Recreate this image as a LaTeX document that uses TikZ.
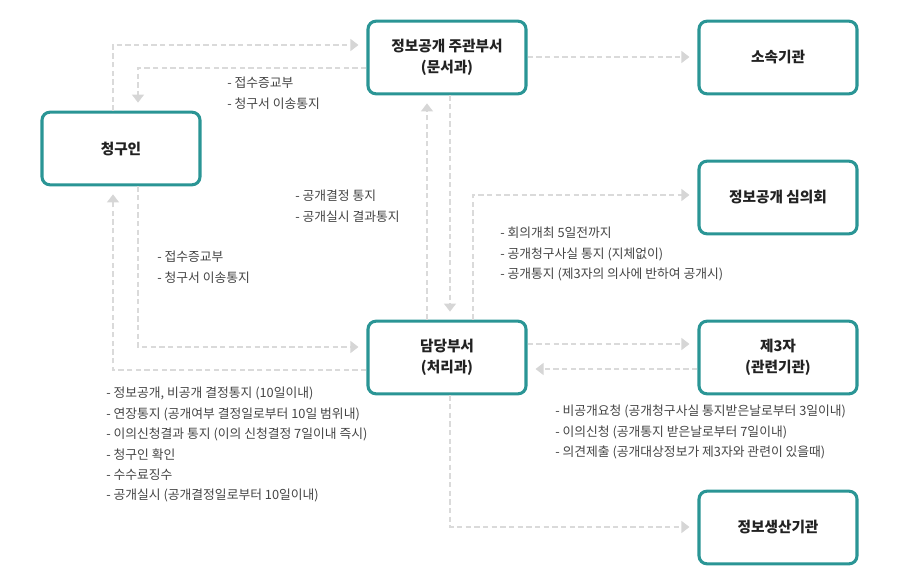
\documentclass[tikz,border=0pt]{standalone}
\usepackage{fontspec}
\setmainfont{Noto Sans CJK KR}
\usetikzlibrary{arrows.meta}
\definecolor{teal1}{HTML}{2A9595}
\definecolor{ln}{HTML}{DADADA}
\definecolor{ah}{HTML}{D6D6D6}
\definecolor{tx}{HTML}{222222}
\definecolor{lt}{HTML}{444444}
\begin{document}
\begin{tikzpicture}[x=0.75pt,y=-0.75pt,
 box/.style={draw=teal1,line width=2.3pt,rounded corners=6pt,minimum width=118.5pt,minimum height=54.5pt,font=\bfseries\fontsize{11}{16}\selectfont,text=tx,align=center,fill=white},
 con/.style={draw=ln,line width=0.8pt,dash pattern=on 4pt off 2.5pt,shorten >=6pt,-{Triangle[length=6pt,width=9pt,fill=ah,color=ah]}},
 lab/.style={anchor=north west,inner sep=0pt,align=left,font=\fontsize{9.6}{15.3}\selectfont,text=lt}]
\useasboundingbox (0,0) rectangle (900,585);
\node[box] (req) at (121,148.5) {청구인};
\node[box] (main) at (447,57.5) {정보공개 주관부서\\(문서과)};
\node[box] (sub) at (778,57.5) {소속기관};
\node[box] (comm) at (778,197.5) {정보공개 심의회};
\node[box] (dept) at (447,357.5) {담당부서\\(처리과)};
\node[box] (third) at (778,357.5) {제3자\\(관련기관)};
\node[box] (prod) at (778,527.5) {정보생산기관};
\draw[con] (req.north -| 113,0) |- (main.west |- 0,45);
\draw[con] (main.west |- 0,68) -| (req.north -| 138,0);
\draw[con] (main.east |- 0,57) -- (sub.west |- 0,57);
\draw[con] (dept.north -| 427,0) -- (main.south -| 427,0);
\draw[con] (main.south -| 450,0) -- (dept.north -| 450,0);
\draw[con] (dept.north -| 473,0) |- (comm.west |- 0,195);
\draw[con] (req.south -| 138,0) |- (dept.west |- 0,347);
\draw[con] (dept.west |- 0,370) -| (req.south -| 113,0);
\draw[con] (dept.east |- 0,344) -- (third.west |- 0,344);
\draw[con] (third.west |- 0,369) -- (dept.east |- 0,369);
\draw[con] (dept.south -| 450,0) |- (prod.west |- 0,527);
\node[lab] (la) at (227,77) {- 접수증교부\\- 청구서 이송통지};
\node[lab] (lb) at (295,190) {- 공개결정 통지\\- 공개실시 결과통지};
\node[lab] (lc) at (157,251) {- 접수증교부\\- 청구서 이송통지};
\node[lab] (ld) at (500,227) {- 회의개최 5일전까지\\- 공개청구사실 통지 (지체없이)\\- 공개통지 (제3자의 의사에 반하여 공개시)};
\node[lab] (le) at (106,387) {- 정보공개, 비공개 결정통지 (10일이내)\\- 연장통지 (공개여부 결정일로부터 10일 범위내)\\- 이의신청결과 통지 (이의 신청결정 7일이내 즉시)\\- 청구인 확인\\- 수수료징수\\- 공개실시 (공개결정일로부터 10일이내)};
\node[lab] (lf) at (555,405) {- 비공개요청 (공개청구사실 통지받은날로부터 3일이내)\\- 이의신청 (공개통지 받은날로부터 7일이내)\\- 의견제출 (공개대상정보가 제3자와 관련이 있을때)};
\end{tikzpicture}
\end{document}
